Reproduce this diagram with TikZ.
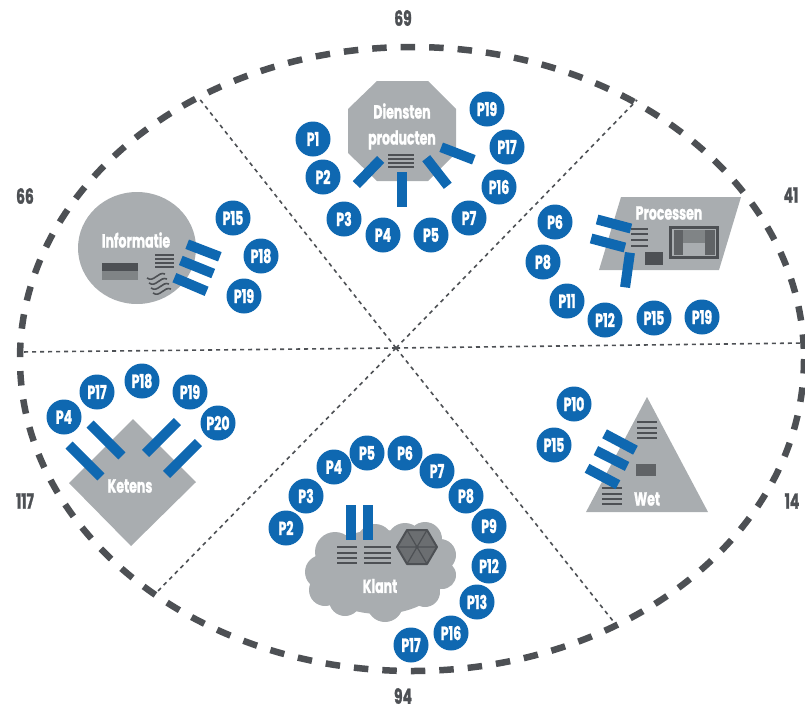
\documentclass[tikz,border=0pt]{standalone}
\usepackage{fontspec}
\setmainfont{Poppins}[FakeStretch=0.66,BoldFont={* Bold},BoldFeatures={FakeBold=1.2}]
\usetikzlibrary{positioning,shapes.geometric}
\definecolor{vlgray}{RGB}{169,173,176}
\definecolor{vlblue}{RGB}{15,104,177}
\definecolor{vldark}{RGB}{77,80,84}
\definecolor{vlmid}{RGB}{128,132,134}
\definecolor{vlpanel}{RGB}{96,99,102}
\begin{document}
\begin{tikzpicture}[x=1pt, y=-1pt,
  badge/.style={circle, fill=vlblue, text=white, inner sep=0pt, minimum size=35pt,
    font=\fontsize{19}{19}\selectfont\bfseries},
  bar/.style={rectangle, fill=vlblue, inner sep=0pt, minimum width=35pt, minimum height=10pt},
  title/.style={text=white, inner sep=0pt, font=\fontsize{19}{19}\selectfont\bfseries},
  count/.style={text=vldark, inner sep=0pt, font=\fontsize{21}{21}\selectfont\bfseries},
  spoke/.style={vldark, line width=1.6pt, dash pattern=on 4pt off 4pt},
  rim/.style={vldark, line width=6.5pt, dash pattern=on 14.5pt off 14pt},
  stripe/.style={vldark, line width=1.6pt},
  plate/.style={fill=vlgray}]
\useasboundingbox (0,0) rectangle (805,707);
% Spokes
\coordinate (hub) at (396,348);
\coordinate (endw) at (20,352);
\coordinate (ende) at (805,343);
\coordinate (endnw) at (198,97);
\coordinate (endne) at (637,100);
\coordinate (endsw) at (157,592);
\coordinate (endse) at (617,626);
\draw[spoke] (hub) -- (endw);
\draw[spoke] (hub) -- (ende);
\draw[spoke] (hub) -- (endnw);
\draw[spoke] (hub) -- (endne);
\draw[spoke] (hub) -- (endsw);
\draw[spoke] (hub) -- (endse);
% Rim
\draw[rim] (412,359) ellipse [x radius=392, y radius=312];
% Counts
\node[count] (n69) at (403,18) {69};
\node[count] (n41) at (791,195) {41};
\node[count] (n14) at (792,501) {14};
\node[count] (n94) at (403,696) {94};
\node[count] (n117) at (25,501) {117};
\node[count] (n66) at (25,196) {66};
% Top: Diensten
\fill[plate] (377,81) -- (428,81) -- (456,109) -- (456,153) -- (428,181) -- (377,181) -- (348,153) -- (348,109) -- cycle;
\node[title] (dienst) at (402,111) {Diensten};
\node[title] (prod) at (402,140) {producten};
\draw[stripe] (388,155) -- (414,155) (388,159) -- (414,159) (388,163) -- (414,163) (388,167) -- (414,167);
\node[bar, rotate=46] (d1) at (368.5,172) {};
\node[bar, rotate=90] (d2) at (402,189) {};
\node[bar, rotate=-52] (d3) at (437,172) {};
\node[bar, rotate=-21] (d4) at (457.5,153.5) {};
\node[badge] (dp1) at (313,139) {P1};
\node[badge] (dp2) at (323,177) {P2};
\node[badge] (dp3) at (344,219) {P3};
\node[badge] (dp4) at (383,235) {P4};
\node[badge] (dp5) at (431,235) {P5};
\node[badge] (dp7) at (469,218) {P7};
\node[badge] (dp16) at (499,187) {P16};
\node[badge] (dp17) at (507,147) {P17};
\node[badge] (dp19) at (487,109) {P19};
% Right: Processen
\fill[plate] (621,197) -- (741,197) -- (719,270) -- (599,270) -- cycle;
\node[title] (proc) at (669,213) {Processen};
\draw[stripe] (631,229) -- (648,229) (631,234) -- (648,234) (631,240) -- (648,240) (631,246) -- (648,246);
\fill[vldark] (645,252) rectangle (663,265);
\fill[vldark] (669,226) rectangle (719,259);
\fill[vlgray] (672,229) rectangle (716,256);
\fill[vlmid] (683,230) rectangle (705,243);
\fill[vlpanel] (674,230) rectangle (683,255);
\fill[vlpanel] (705,230) rectangle (715,255);
\node[bar, rotate=-15] (p1) at (614,224) {};
\node[bar, rotate=-15] (p2) at (608,243) {};
\node[bar, rotate=82] (p3) at (627.5,270) {};
\node[badge] (pp6) at (555,222) {P6};
\node[badge] (pp8) at (543,262) {P8};
\node[badge] (pp11) at (567,301) {P11};
\node[badge] (pp12) at (605,320) {P12};
\node[badge] (pp15) at (654,318) {P15};
\node[badge] (pp19) at (702,317) {P19};
% Left: Informatie
\fill[plate] (137,248) ellipse [x radius=59, y radius=56];
\node[title] (info) at (136,240) {Informatie};
\fill[vldark] (102,263) rectangle (138,271);
\fill[vlmid] (102,271) rectangle (138,280);
\draw[stripe] (155,255) -- (174,255) (155,259) -- (174,259) (155,263) -- (174,263) (155,267) -- (174,267);
\draw[stripe] (147,278) .. controls (154,283) and (158,271) .. (165,274);
\draw[stripe] (149,283) .. controls (156,288) and (160,276) .. (167,279);
\draw[stripe] (151,288) .. controls (158,293) and (162,281) .. (169,284);
\draw[stripe] (153,293) .. controls (160,298) and (164,286) .. (171,289);
\node[bar, rotate=-21] (i1) at (203.5,250.5) {};
\node[bar, rotate=-22] (i2) at (197,267) {};
\node[bar, rotate=-23] (i3) at (190.5,284.5) {};
\node[badge] (ip15) at (233,218) {P15};
\node[badge] (ip18) at (261,256) {P18};
\node[badge] (ip19) at (244,296) {P19};
% Bottom left: Ketens
\fill[plate] (133,419) -- (196,482) -- (131,546) -- (69,483) -- cycle;
\node[title] (ket) at (130,486) {Ketens};
\node[bar, rotate=-45, minimum width=45pt] (k1) at (85,461) {};
\node[bar, rotate=-45, minimum width=45pt] (k2) at (106,440) {};
\node[bar, rotate=45, minimum width=45pt] (k3) at (161.5,437.5) {};
\node[bar, rotate=45, minimum width=45pt] (k4) at (182.5,458.5) {};
\node[badge] (kp4) at (64,417) {P4};
\node[badge] (kp17) at (97,392) {P17};
\node[badge] (kp18) at (142,381) {P18};
\node[badge] (kp19) at (190,392) {P19};
\node[badge] (kp20) at (218,423) {P20};
% Bottom: Klant
\fill[plate] (380,572) ellipse [x radius=66, y radius=42];
\fill[plate] (322,572) circle (17) (335,552) circle (20) (375,542) circle (18) (405,541) circle (18) (425,539) circle (17)
  (440,555) circle (16) (442,575) circle (14) (425,592) circle (15) (385,604) circle (18) (345,600) circle (16) (325,590) circle (16);
\node[title] (klant) at (380,586) {Klant};
\draw[stripe, line width=2.4pt] (337,547) -- (357,547) (364,547) -- (391,547);
\draw[stripe] (337,553) -- (357,553) (337,558) -- (357,558) (337,563) -- (357,563);
\draw[stripe] (364,553) -- (391,553) (364,558) -- (391,558) (364,563) -- (391,563);
\draw[vldark, fill=vlpanel!85!vlgray, line width=2pt, line join=round]
  (397,547) -- (407,530) -- (427,530) -- (437,547) -- (427,564) -- (407,564) -- cycle;
\draw[vldark, line width=1.2pt] (397,547) -- (437,547) (407,530) -- (427,564) (427,530) -- (407,564);
\node[bar, rotate=90] (l1) at (351,522.5) {};
\node[bar, rotate=90] (l2) at (368,522.5) {};
\node[badge] (lp2) at (286,528) {P2};
\node[badge] (lp3) at (306,496) {P3};
\node[badge] (lp4) at (334,467) {P4};
\node[badge] (lp5) at (367,453) {P5};
\node[badge] (lp6) at (405,453) {P6};
\node[badge] (lp7) at (437,471) {P7};
\node[badge] (lp8) at (466,496) {P8};
\node[badge] (lp9) at (489,526) {P9};
\node[badge] (lp12) at (489,566) {P12};
\node[badge] (lp13) at (477,602) {P13};
\node[badge] (lp16) at (451,633) {P16};
\node[badge] (lp17) at (411,645) {P17};
% Bottom right: Wet
\fill[plate] (647,397) -- (708,512) -- (586,512) -- cycle;
\node[title] (wet) at (647,499) {Wet};
\draw[stripe] (637,422) -- (657,422) (637,428) -- (657,428) (637,433) -- (657,433) (637,438) -- (657,438);
\fill[vlpanel] (636,464) rectangle (656,476);
\draw[stripe] (602,488) -- (622,488) (602,494) -- (622,494) (602,499) -- (622,499) (602,504) -- (622,504);
\node[bar, rotate=-28] (w1) at (620,442) {};
\node[bar, rotate=-27] (w2) at (611.5,458.5) {};
\node[bar, rotate=-28] (w3) at (602.5,476.5) {};
\node[badge] (wp10) at (574,404) {P10};
\node[badge] (wp15) at (554,445) {P15};
\end{tikzpicture}
\end{document}
